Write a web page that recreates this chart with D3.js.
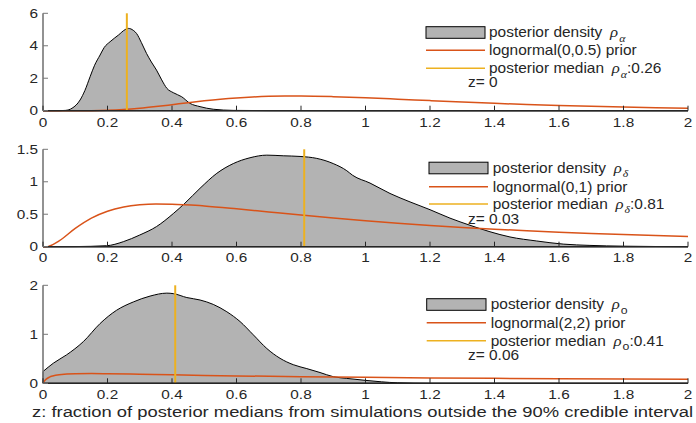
<!DOCTYPE html>
<html><head><meta charset="utf-8">
<script src="https://cdn.jsdelivr.net/npm/d3@7"></script>
<style>html,body{margin:0;padding:0;background:#fff;} svg{display:block;}</style>
</head><body>
<div id="chart"></div>
<script>
// ---------- data ----------
const xTicks = [0,0.2,0.4,0.6,0.8,1,1.2,1.4,1.6,1.8,2];
const xTickLabels = ["0","0.2","0.4","0.6","0.8","1","1.2","1.4","1.6","1.8","2"];

// panel 1: rho_alpha
const postAlphaX = [0,0.05,0.07,0.09,0.115,0.13,0.146,0.16,0.177,0.19,0.208,0.234,0.255,0.265,0.28,0.29,0.305,0.321,0.336,0.352,0.368,0.384,0.404,0.43,0.456,0.487,0.528,0.59,0.7,1,2];
const postAlphaY = [0,0,0.02,0.15,0.66,1.25,2.09,2.8,3.43,3.9,4.25,4.66,5.0,5.07,4.95,4.76,4.2,3.53,3.0,2.5,1.9,1.38,1.11,0.86,0.45,0.25,0.09,0.02,0.005,0,0];
const priorAlphaX = [0,0.05,0.1,0.15,0.2,0.25,0.3,0.35,0.4,0.45,0.5,0.55,0.6,0.65,0.7,0.75,0.8,0.9,1.0,1.1,1.2,1.3,1.4,1.5,1.6,1.7,1.8,1.9,2.0];
const priorAlphaY = [0,0,0.0002,0.004,0.0225,0.068,0.1465,0.252,0.372,0.495,0.610,0.710,0.789,0.847,0.884,0.9015,0.903,0.867,0.798,0.712,0.622,0.535,0.4545,0.383,0.3206,0.267,0.222,0.184,0.1526];
const medianAlpha = 0.26;
const zAlpha = "0";

// panel 2: rho_delta
const postDeltaX = [0,0.1,0.197,0.249,0.30,0.352,0.404,0.44,0.487,0.539,0.59,0.642,0.694,0.745,0.797,0.849,0.90,0.942,0.96,1.014,1.076,1.138,1.2,1.262,1.324,1.386,1.448,1.531,1.613,1.696,1.8,1.9,2];
const postDeltaY = [0,0.002,0.015,0.077,0.18,0.31,0.51,0.67,0.90,1.13,1.28,1.37,1.41,1.40,1.39,1.36,1.28,1.17,1.10,0.98,0.82,0.69,0.57,0.44,0.33,0.23,0.15,0.088,0.04,0.02,0.008,0.003,0];
const priorDeltaX = [0,0.01,0.02,0.05,0.1,0.15,0.2,0.25,0.3,0.35,0.4,0.5,0.6,0.7,0.8,0.9,1.0,1.1,1.2,1.3,1.4,1.5,1.6,1.7,1.8,1.9,2.0];
const priorDeltaY = [0,0,0.0095,0.0898,0.2816,0.4398,0.5464,0.6104,0.6442,0.657,0.6555,0.6275,0.5836,0.5348,0.4864,0.4408,0.3989,0.361,0.3269,0.2965,0.2693,0.245,0.2232,0.2039,0.1865,0.1709,0.1569];
const medianDelta = 0.81;
const zDelta = "0.03";

// panel 3: rho_o
const postOX = [0,0.032,0.073,0.125,0.177,0.228,0.28,0.332,0.384,0.404,0.446,0.487,0.528,0.57,0.611,0.652,0.694,0.735,0.776,0.818,0.859,0.90,0.942,1.0,1.05,1.1,1.2,2];
const postOY = [0.24,0.41,0.58,0.85,1.22,1.49,1.66,1.78,1.84,1.83,1.75,1.70,1.61,1.46,1.26,0.99,0.71,0.51,0.38,0.30,0.22,0.135,0.10,0.06,0.03,0.01,0,0];
const priorOX = [0,0.001,0.002,0.005,0.01,0.02,0.03,0.05,0.1,0.15,0.2,0.3,0.4,0.5,0.6,0.8,1.0,1.2,1.4,1.6,1.8,2.0];
const priorOY = [0,0.0098,0.0217,0.051,0.0853,0.126,0.150,0.1762,0.1972,0.1992,0.1957,0.1843,0.1722,0.1611,0.1512,0.1344,0.121,0.110,0.1008,0.0931,0.0864,0.0806];
const medianO = 0.41;
const zO = "0.06";

const yTicks1 = [0,2,4,6], yTicks2 = [0,0.5,1,1.5], yTicks3 = [0,1,2];
const yTickLabels1 = ["0","2","4","6"], yTickLabels2 = ["0","0.5","1","1.5"], yTickLabels3 = ["0","1","2"];
const priorLabels = ["lognormal(0,0.5) prior","lognormal(0,1) prior","lognormal(2,2) prior"];
const subs = ["\u03B1","\u03B4","o"];
const xLabel = "z: fraction of posterior medians from simulations outside the 90% credible interval";

// ---------- drawing ----------
const W = 696, H = 423;
const FONT = "'Liberation Sans', Arial, Helvetica, sans-serif";
const SERIF = "'Liberation Serif', 'DejaVu Serif', serif";
const FS = 13, SX = 1.18;
const LFS = 13.8, LSX = 1.12;
const TXT = "#262626", AX = "#262626";
const RED = "#d95319", YEL = "#edb120", GRAY = "#b3b3b3";

const svg = d3.select("#chart").append("svg").attr("width", W).attr("height", H);
const x = d3.scaleLinear().domain([0,2]).range([43, 688]);

const panels = [
  {px: postAlphaX, py: postAlphaY, rx: priorAlphaX, ry: priorAlphaY, med: medianAlpha, z: zAlpha,
   ymax: 6, top: 13.3, bot: 110.7, yt: yTicks1, ytl: yTickLabels1, tl: 16.5,
   leg: {sx0: 426, sx1: 485, sy: 32.5, tx: 489, r2: 50.3, r3: 68.3, zy: 82}},
  {px: postDeltaX, py: postDeltaY, rx: priorDeltaX, ry: priorDeltaY, med: medianDelta, z: zDelta,
   ymax: 1.5, top: 149.3, bot: 246.7, yt: yTicks2, ytl: yTickLabels2, tl: 15,
   leg: {sx0: 429, sx1: 488, sy: 168, tx: 492.7, r2: 186.7, r3: 204, zy: 219.3}},
  {px: postOX, py: postOY, rx: priorOX, ry: priorOY, med: medianO, z: zO,
   ymax: 2, top: 285.3, bot: 383.3, yt: yTicks3, ytl: yTickLabels3, tl: 16,
   leg: {sx0: 426.7, sx1: 486, sy: 304.5, tx: 490.7, r2: 322.7, r3: 340.7, zy: 355}}
];

function textAt(parent, tx, ty, anchor, fs, sx) {
  return parent.append("g").attr("transform", `translate(${tx},${ty}) scale(${sx || SX},1)`)
    .append("text").attr("font-family", FONT).attr("font-size", fs || FS)
    .attr("fill", TXT).attr("text-anchor", anchor || "start");
}
function rhoText(t, before, sub, after) {
  t.append("tspan").text(before);
  t.append("tspan").text("\u03C1").attr("dx", 3).attr("font-family", SERIF).attr("font-style", "italic").attr("font-size", 15);
  const greek = sub !== "o";
  t.append("tspan").text(sub).attr("dx", 1)
    .attr("font-family", greek ? SERIF : FONT).attr("font-style", greek ? "italic" : "normal")
    .attr("font-size", greek ? 10.5 : 11).attr("dy", 4.5);
  if (after) t.append("tspan").text(after).attr("dy", -4.5);
}

panels.forEach((p, i) => {
  const y = d3.scaleLinear().domain([0, p.ymax]).range([p.bot, p.top]);
  const g = svg.append("g");
  const pts = p.px.map((v, k) => [v, p.py[k]]);

  // posterior area (closed polygon with outline)
  const area = d3.area().x(d => x(d[0])).y0(y(0)).y1(d => y(d[1])).curve(d3.curveMonotoneX);
  g.append("path").datum(pts).attr("d", area).attr("fill", GRAY).attr("stroke", "#000").attr("stroke-width", 1);

  // prior line
  const line = d3.line().x(d => x(d[0])).y(d => y(d[1])).curve(d3.curveMonotoneX);
  g.append("path").datum(p.rx.map((v, k) => [v, p.ry[k]])).attr("d", line)
    .attr("fill", "none").attr("stroke", RED).attr("stroke-width", 1.5);

  // median line
  g.append("line").attr("x1", x(p.med)).attr("x2", x(p.med)).attr("y1", y(0)).attr("y2", y(p.ymax))
    .attr("stroke", YEL).attr("stroke-width", 2);

  // axes
  g.append("line").attr("x1", x(0)).attr("x2", x(2)).attr("y1", y(0)).attr("y2", y(0))
    .attr("stroke", AX).attr("stroke-width", 1.5);
  g.append("line").attr("x1", x(0)).attr("x2", x(0)).attr("y1", y(0)).attr("y2", y(p.ymax))
    .attr("stroke", "#777").attr("stroke-width", 1.6);
  xTicks.forEach((v, k) => {
    g.append("line").attr("x1", x(v)).attr("x2", x(v)).attr("y1", y(0)).attr("y2", y(0) - 5)
      .attr("stroke", AX).attr("stroke-width", 1);
    textAt(g, x(v), y(0) + p.tl, "middle").text(xTickLabels[k]);
  });
  p.yt.forEach((v, k) => {
    g.append("line").attr("x1", x(0)).attr("x2", x(0) + 5).attr("y1", y(v)).attr("y2", y(v))
      .attr("stroke", "#777").attr("stroke-width", 1);
    textAt(g, 38, y(v) + 4.5, "end").text(p.ytl[k]);
  });

  // legend
  const L = p.leg;
  g.append("rect").attr("x", L.sx0).attr("y", L.sy - 5.8).attr("width", L.sx1 - L.sx0).attr("height", 11.6)
    .attr("fill", GRAY).attr("stroke", "#000").attr("stroke-width", 1);
  rhoText(textAt(g, L.tx, L.sy + 4.8, "start", LFS, LSX), "posterior density ", subs[i], null);
  g.append("line").attr("x1", L.sx0).attr("x2", L.sx1).attr("y1", L.r2).attr("y2", L.r2).attr("stroke", RED).attr("stroke-width", 1.5);
  textAt(g, L.tx, L.r2 + 4.8, "start", LFS, LSX).text(priorLabels[i]);
  g.append("line").attr("x1", L.sx0).attr("x2", L.sx1).attr("y1", L.r3).attr("y2", L.r3).attr("stroke", YEL).attr("stroke-width", 1.5);
  rhoText(textAt(g, L.tx, L.r3 + 4.8, "start", LFS, LSX), "posterior median ", subs[i], ":" + p.med.toFixed(2));
  textAt(g, 468, L.zy + 4.8, "start", LFS, LSX).text("z= " + p.z);
});

textAt(svg, 32, 416.5, "start", 15.5, SX).text(xLabel)
  .attr("textLength", 661 / SX).attr("lengthAdjust", "spacingAndGlyphs");
</script>
</body></html>
